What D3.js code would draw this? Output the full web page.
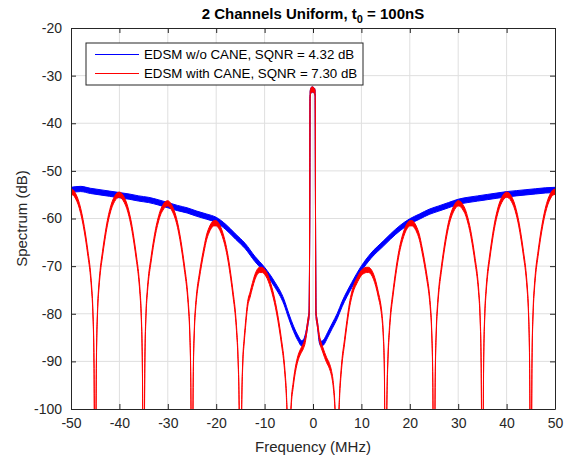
<!DOCTYPE html>
<html>
<head>
<meta charset="utf-8">
<script src="https://cdn.jsdelivr.net/npm/d3@7/dist/d3.min.js"></script>
<style>
  html, body { margin: 0; padding: 0; background: #fff; }
  svg { display: block; font-family: "Liberation Sans", Arial, Helvetica, sans-serif; }
</style>
</head>
<body>
<div id="chart"></div>
<script>
// ── Data ─────────────────────────────────────────────
const xTicks = [-50, -40, -30, -20, -10, 0, 10, 20, 30, 40, 50];
const yTicks = [-100, -90, -80, -70, -60, -50, -40, -30, -20];
const seriesNames = ['EDSM w/o CANE, SQNR = 4.32 dB', 'EDSM with CANE, SQNR = 7.30 dB'];

// [frequency MHz, spectrum dB] — blue trace (without CANE)
const blueSpectrum = [
  [-50, -54.0], [-48, -53.8], [-46, -54.2], [-44, -54.5], [-42, -54.8], [-40, -55.1],
  [-38, -55.4], [-36, -55.8], [-34, -56.1], [-32, -56.6], [-30, -57.2], [-28, -57.8],
  [-26, -58.3], [-24, -59.0], [-22, -59.6], [-20, -60.3], [-18, -61.8], [-16, -63.8],
  [-14, -65.8], [-12, -68.5], [-10, -70.8], [-8, -73.7], [-6, -77.5], [-5, -80.5],
  [-4, -83.2], [-3, -85.3], [-2.4, -86.2], [-2, -86.0], [-1.5, -84.5], [-1, -81.5],
  [-0.8, -80], [-0.68, -60], [-0.6, -34], [-0.45, -33.2], [-0.2, -32.9], [0.05, -33],
  [0.3, -33.2], [0.45, -33.8], [0.52, -60], [0.62, -80], [0.9, -82], [1.3, -85.5],
  [1.7, -86.3], [2.2, -86.0], [3, -84.5], [4, -82.5], [5, -80.5], [6, -78], [8, -74],
  [10, -70.5], [12, -67.8], [14.5, -65.3], [16, -63.8], [18, -62.0], [20, -60.6],
  [22, -59.6], [24, -58.6], [26, -57.9], [28, -57.2], [30, -56.5], [32, -56.1],
  [34, -55.8], [36, -55.5], [38, -55.2], [40, -54.9], [42, -54.7], [44, -54.5],
  [46, -54.3], [48, -54.1], [50, -54.0]
];

// [frequency MHz, spectrum dB] — red trace (with CANE)
const redSpectrum = [
  [-50, -54.4], [-49.5, -54.6], [-49, -55.4], [-48.5, -56.6], [-48, -58.4], [-47.5, -60.8],
  [-47, -63.8], [-46.5, -67.4], [-46, -71.4], [-45.75, -74.5], [-45.5, -79], [-45.25, -90],
  [-45.1, -115], [-45, -130],
  [-44.9, -115], [-44.75, -90], [-44.5, -79], [-44.25, -74.5], [-44, -71.5], [-43.5, -67.5],
  [-43, -64], [-42.5, -61], [-42, -58.7], [-41.5, -57], [-41, -55.9], [-40.5, -55.2],
  [-40, -55], [-39.5, -55.3], [-39, -56.1], [-38.5, -57.3], [-38, -59.1], [-37.5, -61.5],
  [-37, -64.6], [-36.5, -68.2], [-36, -72.3], [-35.75, -75.4], [-35.5, -80], [-35.25, -91],
  [-35.1, -116], [-35, -130],
  [-34.9, -116], [-34.75, -91], [-34.5, -80], [-34.25, -75.6], [-34, -72.7], [-33.5, -68.9],
  [-33, -65.5], [-32.5, -62.6], [-32, -60.4], [-31.5, -58.7], [-31, -57.7], [-30.5, -57.0],
  [-30, -56.8], [-29.5, -57.2], [-29, -58.1], [-28.5, -59.4], [-28, -61.3], [-27.5, -63.9],
  [-27, -67.1], [-26.5, -70.8], [-26, -75], [-25.75, -78.2], [-25.5, -82.8], [-25.25, -94],
  [-25.1, -119], [-25, -130],
  [-24.9, -119], [-24.75, -94], [-24.5, -83], [-24.25, -78.6], [-24, -75.8], [-23.5, -72.2],
  [-23, -69.1], [-22.5, -66.4], [-22, -64.0], [-21.5, -62.5], [-21, -61.5], [-20.5, -61.0],
  [-20, -61.0], [-19.5, -61.5], [-19, -62.5], [-18.5, -64.0], [-18, -66.0], [-17.5, -68.7],
  [-17, -72.1], [-16.5, -76.0], [-16, -80.5], [-15.75, -84], [-15.5, -89], [-15.25, -100],
  [-15.1, -125], [-15, -130],
  [-14.9, -125], [-14.75, -101], [-14.5, -90], [-14.25, -86], [-14, -83], [-13.5, -78],
  [-13, -76], [-12.5, -74], [-12, -72.3], [-11.5, -71.2], [-11, -70.8], [-10.5, -70.8],
  [-10, -71.2], [-9.5, -72], [-9, -73.3], [-8.5, -75], [-8, -77], [-7.5, -79.5],
  [-7, -82.5], [-6.5, -86], [-6, -90], [-5.75, -93], [-5.5, -97], [-5.25, -106],
  [-5.1, -125], [-5, -130],
  [-4.9, -125], [-4.75, -106], [-4.5, -99], [-4.1, -95], [-3.5, -91], [-3, -89],
  [-2.5, -87.8], [-2, -86.8], [-1.6, -85.5], [-1.3, -83.5], [-1, -81.3], [-0.8, -80],
  [-0.68, -60], [-0.6, -34], [-0.45, -33.2], [-0.2, -32.9], [0.05, -33], [0.3, -33.2],
  [0.45, -33.8], [0.52, -60], [0.62, -80], [0.8, -81.5], [1, -82.8], [1.4, -85.5],
  [2, -87.5], [2.8, -89.7], [3.4, -91], [3.8, -92.4], [4.2, -95], [4.5, -99],
  [4.75, -106], [4.9, -125], [5, -130],
  [5.1, -125], [5.25, -106], [5.5, -97], [5.75, -93], [6, -90], [6.5, -86],
  [7, -82], [7.5, -78.5], [8, -76], [8.5, -74.3], [9, -73.2], [9.5, -72.2],
  [10, -71.4], [10.5, -71], [11, -70.8], [11.5, -70.8], [12, -71.2], [12.5, -72.2],
  [13, -73.8], [13.5, -76], [14, -78.5], [14.25, -80.5], [14.5, -84], [14.75, -92],
  [14.9, -118], [15, -130],
  [15.1, -125], [15.25, -100], [15.5, -89], [15.75, -84], [16, -80.5], [16.5, -76],
  [17, -72.1], [17.5, -68.7], [18, -66], [18.5, -64], [19, -62.5], [19.5, -61.5],
  [20, -61.0], [20.5, -61.0], [21, -61.5], [21.5, -62.5], [22, -64.0], [22.5, -66.4],
  [23, -69.1], [23.5, -72.2], [24, -75.8], [24.25, -78.6], [24.5, -83], [24.75, -94],
  [24.9, -119], [25, -130],
  [25.1, -119], [25.25, -94], [25.5, -82.8], [25.75, -78.2], [26, -75], [26.5, -70.8],
  [27, -67.1], [27.5, -63.9], [28, -61.3], [28.5, -59.4], [29, -58.1], [29.5, -57.2],
  [30, -56.8], [30.5, -57.0], [31, -57.7], [31.5, -58.7], [32, -60.4], [32.5, -62.6],
  [33, -65.5], [33.5, -68.9], [34, -72.7], [34.25, -75.6], [34.5, -80], [34.75, -91],
  [34.9, -116], [35, -130],
  [35.1, -116], [35.25, -91], [35.5, -80], [35.75, -75.4], [36, -72.3], [36.5, -68.2],
  [37, -64.6], [37.5, -61.5], [38, -59.1], [38.5, -57.3], [39, -56.1], [39.5, -55.3],
  [40, -55], [40.5, -55.2], [41, -55.9], [41.5, -57], [42, -58.7], [42.5, -61],
  [43, -64], [43.5, -67.5], [44, -71.5], [44.25, -74.5], [44.5, -79], [44.75, -90],
  [44.9, -115], [45, -130],
  [45.1, -115], [45.25, -90], [45.5, -79], [45.75, -74.5], [46, -71.4], [46.5, -67.4],
  [47, -63.8], [47.5, -60.8], [48, -58.4], [48.5, -56.6], [49, -55.4], [49.5, -54.6],
  [50, -54.4]
];

// ── Layout ───────────────────────────────────────────
const W = 573, H = 463;
const margin = { left: 71, right: 18, top: 28, bottom: 54 };
const innerW = W - margin.left - margin.right;
const innerH = H - margin.top - margin.bottom;
const axisColor = '#262626';
const noiseHalf = 0.55; // dB half-width of the noisy trace band

const svg = d3.select('#chart').append('svg')
  .attr('width', W).attr('height', H);

const x = d3.scaleLinear().domain([-50, 50]).range([0, innerW]);
const y = d3.scaleLinear().domain([-100, -20]).range([innerH, 0]);

svg.append('defs').append('clipPath').attr('id', 'plot-clip')
  .append('rect').attr('width', innerW).attr('height', innerH);

const g = svg.append('g').attr('transform', `translate(${margin.left},${margin.top})`);

// grid
g.append('g').selectAll('line').data(xTicks.slice(1, -1)).join('line')
  .attr('x1', d => x(d)).attr('x2', d => x(d))
  .attr('y1', 0).attr('y2', innerH)
  .attr('stroke', '#dfdfdf').attr('stroke-width', 1);
g.append('g').selectAll('line').data(yTicks.slice(1, -1)).join('line')
  .attr('y1', d => y(d)).attr('y2', d => y(d))
  .attr('x1', 0).attr('x2', innerW)
  .attr('stroke', '#dfdfdf').attr('stroke-width', 1);

// traces
const plot = g.append('g').attr('clip-path', 'url(#plot-clip)');
const band = d3.area()
  .x(d => x(d[0]))
  .y0(d => y(d[1] - noiseHalf))
  .y1(d => y(d[1] + noiseHalf))
  .curve(d3.curveMonotoneX);

[[blueSpectrum, '#0000ff'], [redSpectrum, '#ff0000']].forEach(([data, color]) => {
  plot.append('path')
    .datum(data)
    .attr('d', band)
    .attr('fill', color)
    .attr('stroke', color)
    .attr('stroke-width', 1)
    .attr('stroke-linejoin', 'round');
});

// axes (MATLAB style, ticks inside, box on)
const tickLen = 5;
const plain = d => String(d); // hyphen-minus like the original
const xAxisB = d3.axisBottom(x).tickValues(xTicks).tickSizeInner(-tickLen).tickSizeOuter(0).tickPadding(9).tickFormat(plain);
const xAxisT = d3.axisTop(x).tickValues(xTicks).tickSizeInner(-tickLen).tickSizeOuter(0).tickFormat('');
const yAxisL = d3.axisLeft(y).tickValues(yTicks).tickSizeInner(-tickLen).tickSizeOuter(0).tickPadding(9).tickFormat(plain);
const yAxisR = d3.axisRight(y).tickValues(yTicks).tickSizeInner(-tickLen).tickSizeOuter(0).tickFormat('');

function styleAxis(sel) {
  sel.select('.domain').attr('stroke', axisColor).attr('stroke-width', 1);
  sel.selectAll('.tick line').attr('stroke', axisColor).attr('stroke-width', 1);
  sel.selectAll('.tick text')
    .attr('fill', axisColor)
    .style('font-size', '14px')
    .style('font-family', '"Liberation Sans", Arial, sans-serif');
}

g.append('g').attr('transform', `translate(0,${innerH})`).call(xAxisB).call(styleAxis);
g.append('g').call(xAxisT).call(styleAxis);
g.append('g').call(yAxisL).call(styleAxis);
g.append('g').attr('transform', `translate(${innerW},0)`).call(yAxisR).call(styleAxis);

// labels
svg.append('text')
  .attr('x', margin.left + innerW / 2).attr('y', 452)
  .attr('text-anchor', 'middle')
  .attr('fill', axisColor)
  .style('font-size', '15px')
  .text('Frequency (MHz)');

svg.append('text')
  .attr('transform', `translate(27,${margin.top + innerH / 2}) rotate(-90)`)
  .attr('text-anchor', 'middle')
  .attr('fill', axisColor)
  .style('font-size', '15px')
  .text('Spectrum (dB)');

const title = svg.append('text')
  .attr('x', margin.left + innerW / 2).attr('y', 19)
  .attr('text-anchor', 'middle')
  .attr('fill', '#000')
  .style('font-size', '15px')
  .style('font-weight', 'bold');
title.append('tspan').text('2 Channels Uniform, t');
title.append('tspan').attr('dy', 4).style('font-size', '11px').text('0');
title.append('tspan').attr('dy', -4).text(' = 100nS');

// legend
const legend = svg.append('g').attr('transform', 'translate(86,43)');
legend.append('rect')
  .attr('width', 277).attr('height', 42)
  .attr('fill', '#fff')
  .attr('stroke', axisColor).attr('stroke-width', 1);
['#0000ff', '#ff0000'].forEach((color, i) => {
  const row = legend.append('g').attr('transform', `translate(0,${11.5 + i * 19})`);
  row.append('line')
    .attr('x1', 9).attr('x2', 53)
    .attr('stroke', color).attr('stroke-width', 1);
  row.append('text')
    .attr('x', 58).attr('dy', '0.35em')
    .attr('fill', '#000')
    .style('font-size', '13.3px')
    .text(seriesNames[i]);
});
</script>
</body>
</html>
